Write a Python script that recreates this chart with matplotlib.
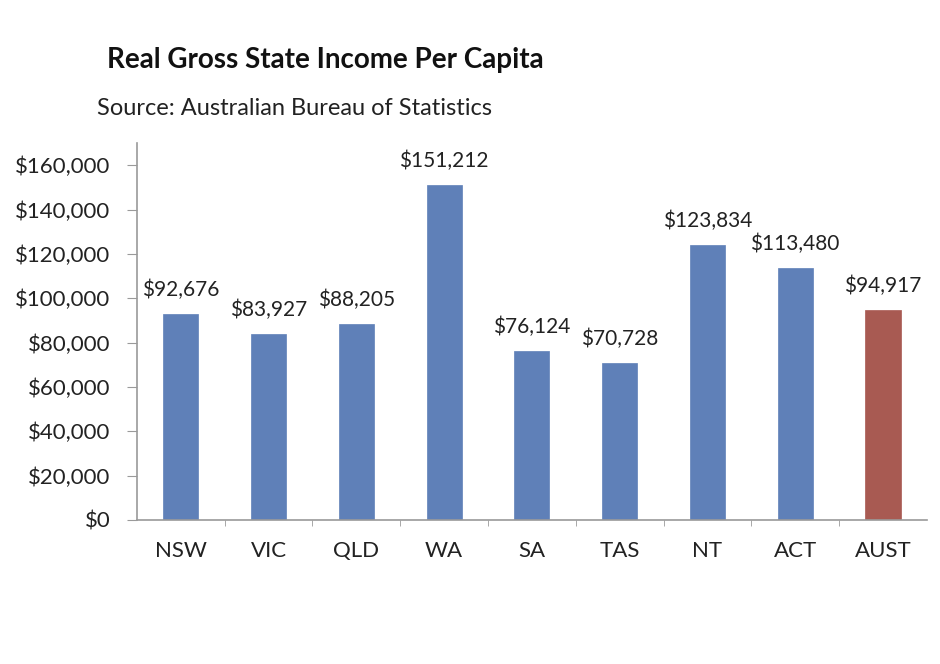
import matplotlib.pyplot as plt
import matplotlib.ticker as mticker

# ── data ─────────────────────────────────────────────────────────────────────
STATES = ["NSW", "VIC", "QLD", "WA", "SA", "TAS", "NT", "ACT", "AUST"]
INCOME = [92676, 83927, 88205, 151212, 76124, 70728, 123834, 113480, 94917]
Y_TICKS = [0, 20000, 40000, 60000, 80000, 100000, 120000, 140000, 160000]

BLUE = "#5F80B8"
RED = "#A85A52"
AXIS_GREY = "#9A9A9A"

plt.rcParams["font.family"] = ["Lato", "DejaVu Sans"]

fig = plt.figure(figsize=(9.4, 6.64), dpi=100)
ax = fig.add_axes([0.1457, 0.2169, 0.8403, 0.5677])

x = list(range(len(STATES)))
colors = [RED if s == "AUST" else BLUE for s in STATES]
bars = ax.bar(x, INCOME, width=0.4, color=colors, edgecolor=colors, linewidth=0.5)

for xi, v in zip(x, INCOME):
    ax.annotate(f"${v:,.0f}", xy=(xi, v), xytext=(0, 10), textcoords="offset points",
                ha="center", va="bottom", fontsize=15, color="#222222")

ax.set_xlim(-0.5, len(STATES) - 0.5)
ax.set_ylim(0, 170000)
ax.set_yticks(Y_TICKS)
ax.yaxis.set_major_formatter(mticker.FuncFormatter(lambda v, p: f"${v:,.0f}"))
ax.set_xticks(x)
ax.set_xticklabels(STATES)
ax.xaxis.set_minor_locator(mticker.FixedLocator([i + 0.5 for i in x[:-1]]))

for side in ("top", "right"):
    ax.spines[side].set_visible(False)
for side in ("left", "bottom"):
    ax.spines[side].set_color(AXIS_GREY)
    ax.spines[side].set_linewidth(1.2)

ax.tick_params(axis="y", direction="out", length=7, color=AXIS_GREY, labelsize=16,
               labelcolor="#222222", pad=12)
ax.tick_params(axis="x", which="major", length=0, labelsize=16, labelcolor="#222222", pad=15)
ax.tick_params(axis="x", which="minor", direction="out", length=4, color=AXIS_GREY)

fig.text(0.114, 0.909, "Real Gross State Income Per Capita", fontsize=20, fontweight="bold",
         ha="left", va="center", color="#111111")
fig.text(0.103, 0.836, "Source: Australian Bureau of Statistics", fontsize=17,
         ha="left", va="center", color="#222222")

fig.savefig("out.png", dpi=100)
